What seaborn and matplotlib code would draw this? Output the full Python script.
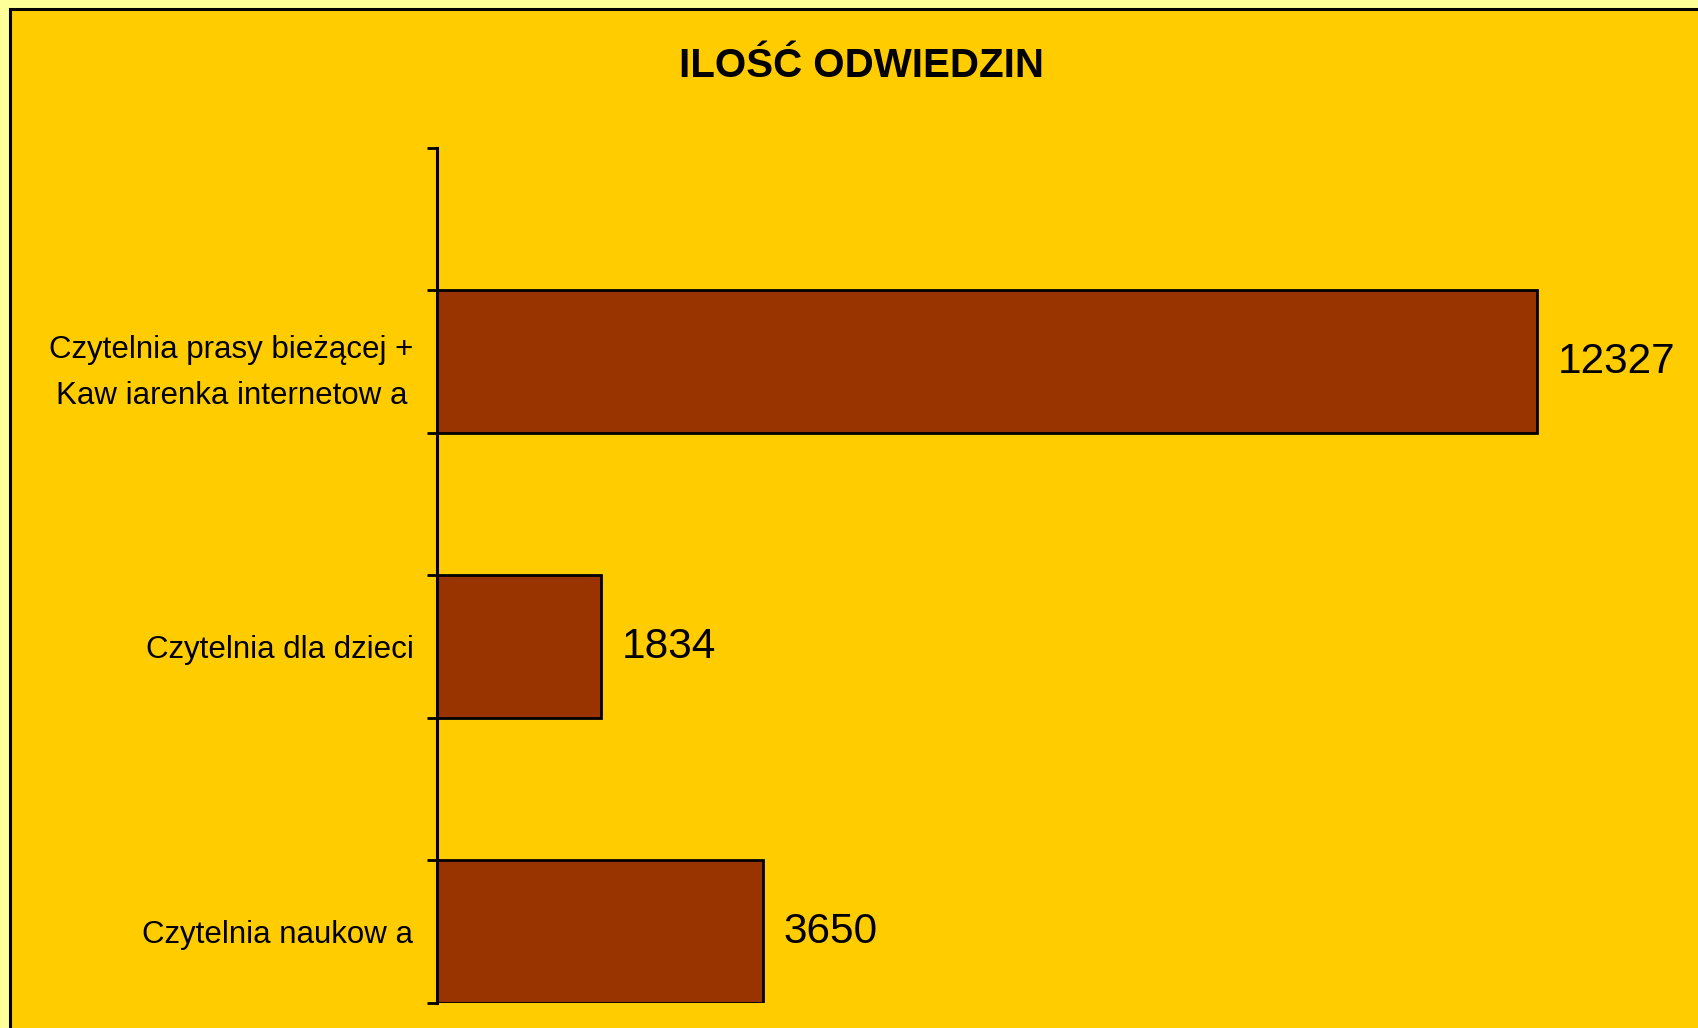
# wykres: ilosc odwiedzin w czytelniach
import matplotlib
matplotlib.use("Agg")
import matplotlib.pyplot as plt
from matplotlib.patches import Rectangle
import seaborn as sns

kategorie = [
    "Czytelnia prasy bieżącej +\nKaw iarenka internetow a",
    "Czytelnia dla dzieci",
    "Czytelnia naukow a",
]
odwiedziny = [12327, 1834, 3650]
tytul = "ILOŚĆ ODWIEDZIN"

W, H = 1698, 1028
TLO = "#FFCC00"
BRZEG = "#FFFF99"
SLUPEK = "#993300"


def rysuj():
    sns.set_theme(style="white")
    plt.rcParams["font.family"] = ["Liberation Sans", "DejaVu Sans"]

    fig = plt.figure(figsize=(W / 100, H / 100), dpi=100, facecolor=BRZEG)
    # ramka wykresu (widoczna tylko u gory i z lewej)
    fig.patches.append(Rectangle((9.5 / W, -0.05), 1.1, 1.05 - 8.5 / H,
                                 transform=fig.transFigure, facecolor=TLO,
                                 edgecolor="black", linewidth=2.2, zorder=-10))

    ax = fig.add_axes([437 / W, 25 / H, (1690 - 437) / W, (1003 - 148) / H])
    ax.set_facecolor("none")

    sns.barplot(x=odwiedziny, y=kategorie, orient="h", color=SLUPEK,
                saturation=1, edgecolor="black", linewidth=2, width=0.5, ax=ax)

    ax.set_xlim(0, 14040)
    ax.set_ylim(2.25, -0.75)

    for s in ["top", "right", "bottom"]:
        ax.spines[s].set_visible(False)
    ax.spines["left"].set_color("black")
    ax.spines["left"].set_linewidth(2.2)
    ax.set_xticks([])
    ax.set_xlabel("")
    ax.set_ylabel("")

    ax.set_yticks([-0.75 + 0.5 * k for k in range(7)], minor=True)
    ax.tick_params(axis="y", which="major", length=0, pad=17, labelsize=22.5,
                   labelcolor="black")
    ax.tick_params(axis="y", which="minor", left=True, length=7.5, width=2,
                   color="black", direction="out")
    for lab in ax.get_yticklabels():
        lab.set_multialignment("center")
        lab.set_linespacing(1.7)

    ax.bar_label(ax.containers[0], padding=15, fontsize=30.5, color="black")

    fig.text(861 / W, 1 - 77 / H, tytul, ha="center", va="baseline",
             fontsize=29, fontweight="bold", color="black")

    fig.savefig("out.png", dpi=100, facecolor=fig.get_facecolor())


if __name__ == "__main__":
    rysuj()
